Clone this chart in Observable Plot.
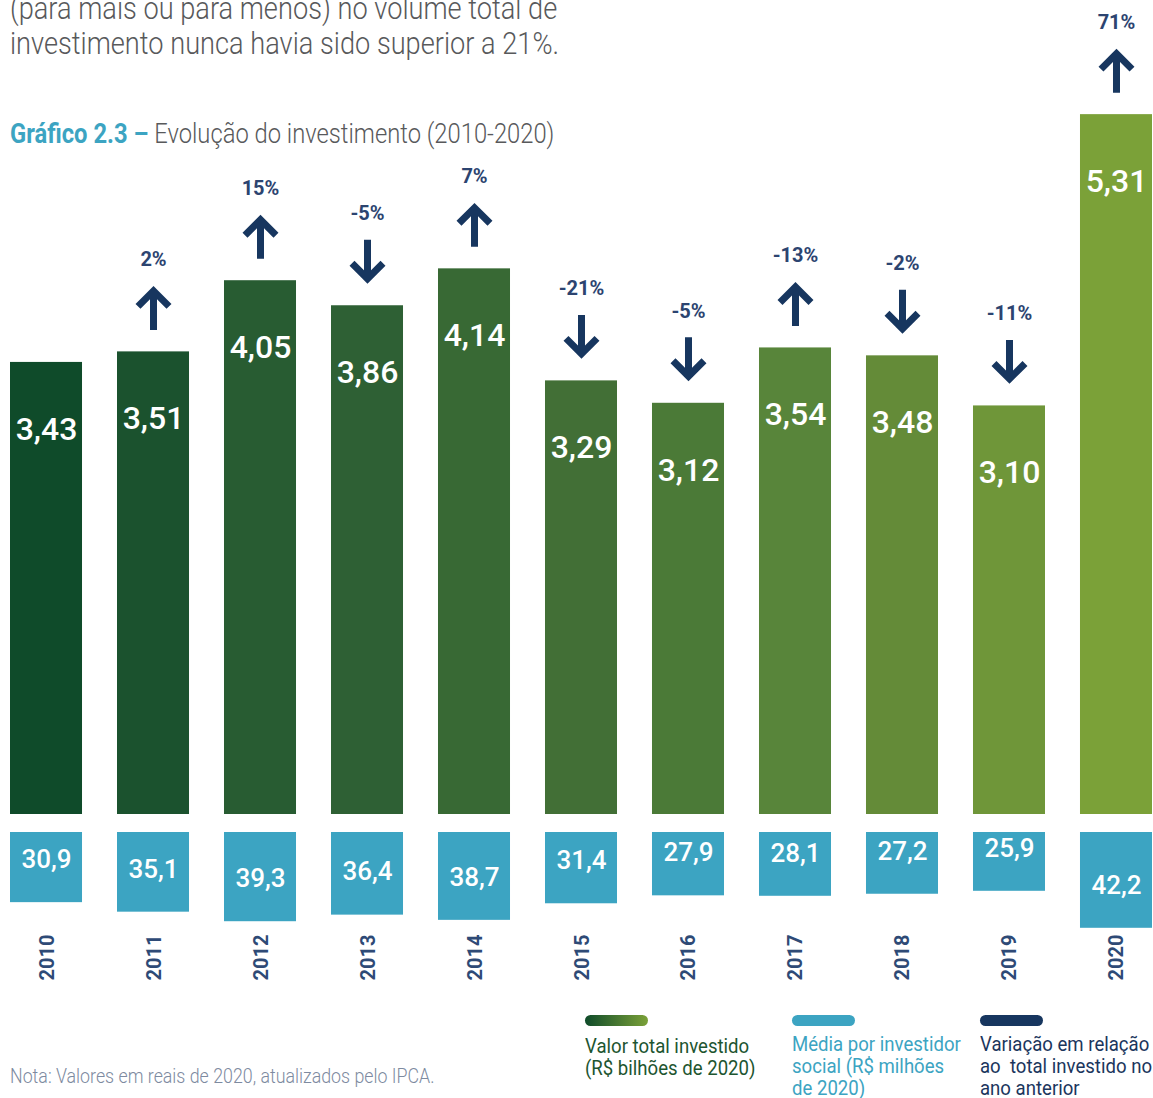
<!DOCTYPE html>
<html>
<head>
<meta charset="utf-8">
<script src="https://cdn.jsdelivr.net/npm/d3@7"></script>
<script src="https://cdn.jsdelivr.net/npm/@observablehq/plot@0.6"></script>
<style>
  body { margin: 0; background: #fff; font-family: Roboto, "Noto Sans", sans-serif; }
  #page { position: relative; width: 1153px; height: 1098px; overflow: hidden; background: #fff; }
  .abs { position: absolute; white-space: nowrap; transform-origin: left top; }
  #intro { left: 10px; top: -9.5px; font-size: 32px; line-height: 35px; font-weight: 300; color: #58595b; transform: scaleX(0.85); }
  #title { left: 10px; top: 119px; font-size: 27px; line-height: 30px; font-weight: 300; color: #58595b; transform: scaleX(0.88); }
  #title b { color: #3ca4c2; font-weight: 700; }
  #chart1 { left: 0; top: 0; }
  #chart2 { left: 0; top: 832px; }
  .sw { position: absolute; height: 11px; width: 63px; border-radius: 6px; }
  .lg { font-size: 21px; line-height: 22px; font-weight: 400; transform: scaleX(0.885); }
  #note { left: 10px; top: 1064px; font-size: 20px; line-height: 24px; font-weight: 300; color: #7d8aa0; transform: scaleX(0.89); }
</style>
</head>
<body>
<div id="page">
  <div id="chart1" class="abs"></div>
  <div id="chart2" class="abs"></div>
  <div id="intro" class="abs">(para mais ou para menos) no volume total de<br>investimento nunca havia sido superior a 21%.</div>
  <div id="title" class="abs"><b>Gráfico 2.3 –</b> Evolução do investimento (2010-2020)</div>
  <div class="sw" style="left:585px;top:1015px;background:linear-gradient(to right,#0f4b2a,#7ba138);"></div>
  <div class="sw" style="left:792px;top:1015px;background:#3ca4c2;"></div>
  <div class="sw" style="left:980px;top:1015px;background:#17365f;"></div>
  <div class="abs lg" style="left:585px;top:1035px;color:#1d5530;">Valor total investido<br>(R$ bilhões de 2020)</div>
  <div class="abs lg" style="left:792px;top:1033px;color:#3ca4c2;">Média por investidor<br>social (R$ milhões<br>de 2020)</div>
  <div class="abs lg" style="left:980px;top:1033px;color:#1b365d;">Variação em relação<br>ao&nbsp; total investido no<br>ano anterior</div>
  <div id="note" class="abs">Nota: Valores em reais de 2020, atualizados pelo IPCA.</div>
</div>
<script>
// ---- data ----
const years = ["2010","2011","2012","2013","2014","2015","2016","2017","2018","2019","2020"];
const totals = [3.43, 3.51, 4.05, 3.86, 4.14, 3.29, 3.12, 3.54, 3.48, 3.10, 5.31];      // R$ bilhões de 2020
const averages = [30.9, 35.1, 39.3, 36.4, 38.7, 31.4, 27.9, 28.1, 27.2, 25.9, 42.2];    // R$ milhões de 2020
const variations = [null, "2%", "15%", "-5%", "7%", "-21%", "-5%", "-13%", "-2%", "-11%", "71%"];
const directions = [null, "up", "up", "down", "up", "down", "down", "up", "down", "down", "up"];
const greenShades = ["#0f4b2a","#1b522e","#285c32","#2e6034","#386934","#426f36","#4b7a37","#58853a","#648b38","#6f9639","#7ba138"];

const rows = years.map((year, i) => ({
  year, total: totals[i], avg: averages[i], variation: variations[i], dir: directions[i]
}));
const fmt = (v, d) => v.toFixed(d).replace(".", ",");

const navy = "#17365f";
const xScale = {type: "band", domain: years, paddingInner: 0.327, paddingOuter: 0, round: false, axis: null};

const arrowShape = {
  draw(context, l) {
    const tip = l - 5;
    context.moveTo(0, 0);
    context.lineTo(0, -tip);
    context.moveTo(-15.5, -tip + 15.5);
    context.lineTo(0, -tip);
    context.lineTo(15.5, -tip + 15.5);
  }
};

const chartTotals = Plot.plot({
  width: 1153, height: 814,
  marginTop: 0, marginBottom: 0, marginLeft: 10, marginRight: 1,
  x: xScale,
  y: {domain: [0, 814 / 131.8], axis: null},
  color: {type: "ordinal", domain: years, range: greenShades},
  style: {fontFamily: "Roboto, sans-serif", overflow: "visible", background: "transparent"},
  marks: [
    Plot.barY(rows, {x: "year", y: "total", fill: "year"}),
    Plot.text(rows, {x: "year", y: "total", text: d => fmt(d.total, 2), dy: 67, fill: "white", fontSize: 32, fontWeight: 500}),
    Plot.vector(rows.filter(d => d.dir), {
      x: "year", y: "total", length: 44, rotate: d => d.dir === "up" ? 0 : 180,
      anchor: "middle", dy: -44, shape: arrowShape,
      stroke: navy, strokeWidth: 7, strokeLinejoin: "miter", strokeLinecap: "butt"
    }),
    Plot.text(rows.filter(d => d.variation), {x: "year", y: "total", text: "variation", dy: -92, fill: "#2c4470", fontSize: 20, fontWeight: 700})
  ]
});
document.getElementById("chart1").append(chartTotals);

const chartAverages = Plot.plot({
  width: 1153, height: 150,
  marginTop: 0, marginBottom: 0, marginLeft: 10, marginRight: 1,
  x: xScale,
  y: {domain: [0, 150 / 2.27], reverse: true, axis: null},
  style: {fontFamily: "Roboto, sans-serif", overflow: "visible", background: "transparent"},
  marks: [
    Plot.barY(rows, {x: "year", y: "avg", fill: "#3ca4c2"}),
    Plot.text(rows, {x: "year", y: "avg", text: d => fmt(d.avg, 1), dy: -43, fill: "white", fontSize: 26, fontWeight: 500}),
    Plot.text(rows, {x: "year", text: "year", frameAnchor: "bottom", rotate: -90, dx: 7, dy: -25, fill: "#2e4a76", fontSize: 20, fontWeight: 700})
  ]
});
document.getElementById("chart2").append(chartAverages);
</script>
</body>
</html>
